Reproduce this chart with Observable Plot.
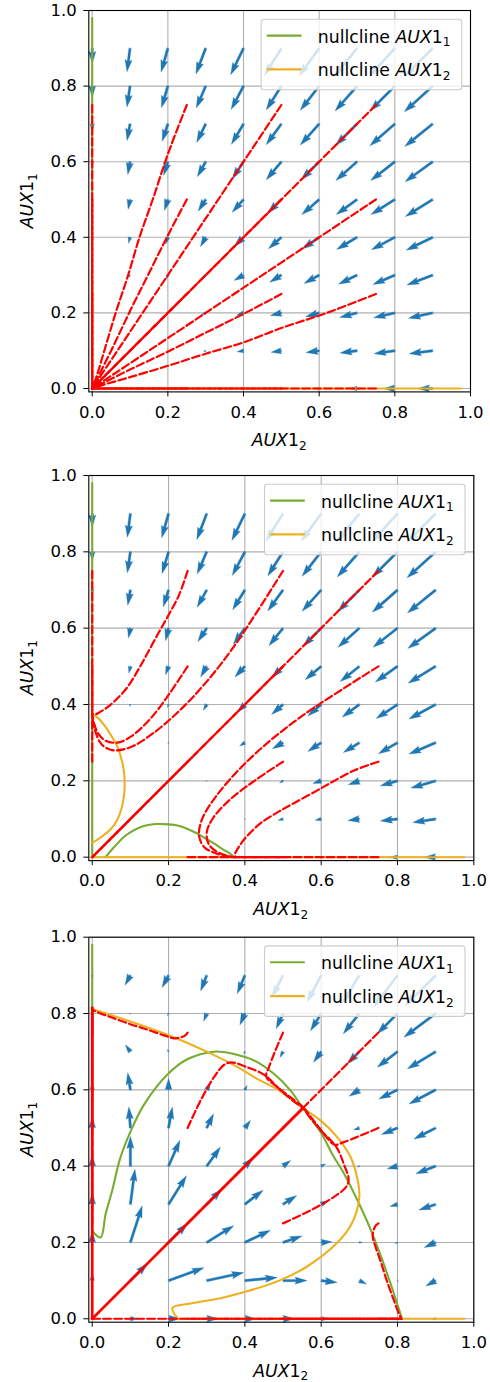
<!DOCTYPE html>
<html><head><meta charset="utf-8">
<script src="https://cdn.jsdelivr.net/npm/d3@7"></script>
<script src="https://cdn.jsdelivr.net/npm/@observablehq/plot@0.6"></script>
<style>body{margin:0;background:#fff}#chart{width:490px}#chart svg{display:block}</style>
</head><body><div id="chart"></div>
<script>
// ---------- data ----------
const gridVals = [0,0.1,0.2,0.3,0.4,0.5,0.6,0.7,0.8,0.9];
const tickVals = [0,0.2,0.4,0.6,0.8,1.0];
const legendLabels = ["1","2"];

// quiver components, rows = AUX1_1 (y) 0..0.9, columns = AUX1_2 (x) 0..0.9
const U1 = [
 [0,0,0,-0.002,-0.004,-0.008,-0.012,-0.02,-0.03,-0.04],
 [0,-0.001,-0.002,-0.006,-0.017,-0.027,-0.035,-0.045,-0.055,-0.062],
 [0,-0.002,-0.004,-0.011,-0.018,-0.029,-0.036,-0.046,-0.056,-0.064],
 [0,-0.003,-0.004,-0.009,-0.025,-0.031,-0.04,-0.049,-0.058,-0.068],
 [0,-0.004,-0.006,-0.014,-0.025,-0.034,-0.045,-0.054,-0.062,-0.07],
 [0,-0.005,-0.009,-0.02,-0.03,-0.036,-0.046,-0.055,-0.063,-0.072],
 [0,-0.006,-0.011,-0.022,-0.03,-0.04,-0.048,-0.056,-0.064,-0.073],
 [0,-0.008,-0.015,-0.024,-0.032,-0.04,-0.05,-0.057,-0.066,-0.074],
 [0,-0.008,-0.017,-0.025,-0.033,-0.04,-0.05,-0.058,-0.066,-0.075],
 [0,-0.008,-0.018,-0.026,-0.034,-0.045,-0.053,-0.06,-0.068,-0.075]];
const V1 = [
 [0,0,0,0,0,0,0,0,0,0],
 [0,-0.001,-0.001,-0.002,-0.003,-0.004,-0.005,-0.006,-0.008,-0.008],
 [0,-0.002,-0.004,-0.004,-0.006,-0.007,-0.01,-0.012,-0.013,-0.014],
 [-0.002,-0.006,-0.011,-0.009,-0.014,-0.019,-0.022,-0.024,-0.025,-0.026],
 [-0.004,-0.016,-0.018,-0.025,-0.025,-0.03,-0.031,-0.032,-0.033,-0.034],
 [-0.008,-0.026,-0.029,-0.031,-0.034,-0.036,-0.04,-0.04,-0.04,-0.045],
 [-0.012,-0.034,-0.036,-0.04,-0.046,-0.048,-0.048,-0.05,-0.05,-0.053],
 [-0.02,-0.044,-0.046,-0.049,-0.054,-0.055,-0.056,-0.057,-0.058,-0.06],
 [-0.03,-0.055,-0.057,-0.058,-0.062,-0.063,-0.064,-0.066,-0.066,-0.068],
 [-0.04,-0.062,-0.063,-0.068,-0.07,-0.072,-0.073,-0.074,-0.075,-0.075]];

const U2 = [
 [0,0,0,0,0,0,-0.004,-0.01,-0.02,-0.03],
 [0,0,0,0,-0.002,-0.013,-0.016,-0.03,-0.045,-0.06],
 [0,0,-0.001,-0.002,-0.003,-0.009,-0.022,-0.029,-0.045,-0.065],
 [0,0,-0.002,-0.004,-0.014,-0.028,-0.035,-0.042,-0.05,-0.07],
 [0,-0.002,-0.003,-0.009,-0.02,-0.03,-0.035,-0.045,-0.056,-0.07],
 [0,-0.004,-0.008,-0.016,-0.026,-0.03,-0.042,-0.05,-0.058,-0.072],
 [0,-0.005,-0.008,-0.023,-0.03,-0.037,-0.048,-0.056,-0.064,-0.073],
 [0,-0.007,-0.014,-0.025,-0.032,-0.04,-0.05,-0.057,-0.066,-0.074],
 [0,-0.008,-0.017,-0.025,-0.033,-0.04,-0.05,-0.058,-0.066,-0.075],
 [0,-0.008,-0.018,-0.026,-0.034,-0.045,-0.053,-0.06,-0.068,-0.075]];
const V2 = [
 [0,0,0,0,0,0,0,0,0,0],
 [0,0,0,0,0,-0.003,-0.003,-0.004,-0.005,-0.009],
 [0,0,-0.001,-0.002,-0.002,-0.006,-0.007,-0.01,-0.013,-0.019],
 [0,0,-0.003,-0.004,-0.009,-0.016,-0.023,-0.026,-0.029,-0.03],
 [0,-0.005,-0.008,-0.015,-0.02,-0.026,-0.03,-0.033,-0.037,-0.038],
 [-0.002,-0.018,-0.022,-0.028,-0.028,-0.03,-0.035,-0.04,-0.041,-0.044],
 [-0.006,-0.026,-0.033,-0.035,-0.042,-0.046,-0.048,-0.05,-0.05,-0.053],
 [-0.014,-0.04,-0.044,-0.045,-0.052,-0.055,-0.056,-0.057,-0.058,-0.06],
 [-0.024,-0.055,-0.057,-0.058,-0.062,-0.063,-0.064,-0.066,-0.066,-0.068],
 [-0.035,-0.062,-0.063,-0.068,-0.07,-0.072,-0.073,-0.074,-0.075,-0.075]];

const U3 = [
 [0,0.02,0.03,0.03,0.03,0.03,0.02,0.01,0,-0.01],
 [0,0.045,0.093,0.097,0.085,0.063,0.042,0.019,0.002,-0.026],
 [0,0.031,0.05,0.071,0.067,0.05,0.028,0.008,-0.006,-0.03],
 [0,0.012,0.047,0.04,0.048,0.036,0.02,0.002,-0.02,-0.044],
 [0,0,0.03,0.036,0.022,0.02,0.012,-0.005,-0.027,-0.052],
 [0,-0.004,0.01,0.018,0.015,0.008,0.003,-0.015,-0.042,-0.057],
 [0,-0.007,0,0.01,0.006,0.001,-0.006,-0.027,-0.049,-0.07],
 [0,-0.013,-0.003,-0.002,-0.003,-0.008,-0.02,-0.032,-0.053,-0.074],
 [0,-0.003,-0.003,-0.008,-0.013,-0.018,-0.028,-0.042,-0.053,-0.083],
 [0,-0.014,-0.017,-0.016,-0.02,-0.029,-0.037,-0.045,-0.062,-0.08]];
const V3 = [
 [0,0,0,0,0,0,0,0,0,0],
 [0.02,0.045,0.034,0.021,0.008,0,-0.005,-0.009,-0.003,-0.014],
 [0.03,0.096,0.05,0.044,0.032,0.017,0.002,0,-0.003,-0.013],
 [0.03,0.092,0.075,0.04,0.037,0.023,0.01,0,-0.006,-0.015],
 [0.03,0.078,0.068,0.05,0.022,0.015,0.006,-0.002,-0.007,-0.02],
 [0.03,0.055,0.055,0.037,0.02,0.008,0.001,-0.005,-0.017,-0.029],
 [0.02,0.045,0.03,0.02,0.012,0.003,-0.006,-0.017,-0.024,-0.037],
 [0.01,0.018,0.006,0,-0.006,-0.015,-0.028,-0.032,-0.041,-0.045],
 [0,-0.002,-0.006,-0.02,-0.03,-0.04,-0.045,-0.053,-0.053,-0.062],
 [-0.01,-0.026,-0.032,-0.041,-0.048,-0.057,-0.07,-0.074,-0.083,-0.08]];

// nullclines [x, y]
const green1 = [[[0,0],[0,0.98]]];
const yellow1 = [[[0,0],[0.975,0]]];
const green2 = [[[0,0],[0,0.98]],
 [[0.035,0],[0.05,0.018],[0.083,0.053],[0.105,0.068],[0.127,0.079],[0.15,0.085],[0.17,0.087],[0.2,0.086],[0.223,0.083],[0.25,0.074],[0.275,0.062],[0.3,0.047],[0.319,0.036],[0.34,0.022],[0.362,0.009],[0.372,0]]];
const yellow2 = [[[0,0],[0.975,0]],
 [[0,0.038],[0.004,0.04],[0.025,0.054],[0.048,0.073],[0.065,0.097],[0.076,0.125],[0.083,0.16],[0.085,0.19],[0.083,0.225],[0.077,0.255],[0.066,0.29],[0.05,0.318],[0.032,0.345],[0.015,0.365],[0.004,0.372],[0,0.375]]];
const green3 = [[[0,0.23],[0,0.98]],
 [[0,0.23],[0.022,0.213],[0.035,0.274],[0.052,0.335],[0.074,0.423],[0.1,0.49],[0.135,0.56],[0.197,0.64],[0.249,0.68],[0.319,0.70],[0.371,0.694],[0.424,0.677],[0.476,0.642],[0.52,0.598],[0.55,0.555],[0.598,0.49],[0.63,0.43],[0.66,0.38],[0.70,0.30],[0.734,0.223],[0.773,0.118],[0.812,0]]];
const yellow3 = [[[0.225,0],[0.975,0]],
 [[0.225,0],[0.21,0.028],[0.258,0.04],[0.336,0.054],[0.406,0.072],[0.49,0.1],[0.56,0.135],[0.64,0.197],[0.68,0.249],[0.70,0.319],[0.694,0.371],[0.677,0.424],[0.642,0.476],[0.598,0.52],[0.555,0.55],[0.49,0.598],[0.43,0.63],[0.38,0.66],[0.30,0.70],[0.223,0.734],[0.118,0.773],[0,0.812]]];

// trajectories [x, y], start point first
const traj1 = [
 [[0.25,0.75],[0.2,0.62],[0.16,0.5],[0.125,0.4],[0.095,0.3],[0.062,0.2],[0.032,0.1],[0.011,0.03],[0,0]],
 [[0.75,0.25],[0.62,0.2],[0.5,0.16],[0.4,0.122],[0.3,0.092],[0.2,0.06],[0.1,0.03],[0.03,0.01],[0,0]],
 [[0.25,0.5],[0.2,0.405],[0.15,0.305],[0.1,0.205],[0.05,0.1],[0,0]],
 [[0.5,0.25],[0.405,0.2],[0.305,0.15],[0.205,0.1],[0.1,0.05],[0,0]],
 [[0.5,0.75],[0.4,0.6],[0.3,0.45],[0.2,0.3],[0.1,0.15],[0,0]],
 [[0.75,0.5],[0.6,0.4],[0.45,0.3],[0.3,0.2],[0.15,0.1],[0,0]],
 [[0.75,0.75],[0,0]],[[0.5,0.5],[0,0]],[[0.25,0.25],[0,0]],
 [[0,0.75],[0,0]],[[0,0.5],[0,0]],[[0,0.25],[0,0]],
 [[0.75,0],[0,0]],[[0.5,0],[0,0]],[[0.25,0],[0,0]]];
const traj2 = [
 [[0.25,0.75],[0.227,0.686],[0.197,0.629],[0.175,0.59],[0.144,0.533],[0.12,0.49],[0.092,0.445],[0.065,0.415],[0.04,0.393],[0.02,0.38],[0.008,0.374],[0,0.375]],
 [[0.75,0.25],[0.686,0.227],[0.629,0.197],[0.59,0.175],[0.533,0.144],[0.49,0.12],[0.445,0.092],[0.415,0.065],[0.393,0.04],[0.38,0.02],[0.374,0.008],[0.375,0]],
 [[0.25,0.5],[0.2,0.425],[0.15,0.36],[0.1,0.315],[0.065,0.3],[0.035,0.305],[0.015,0.325],[0.005,0.35],[0,0.372]],
 [[0.5,0.25],[0.425,0.2],[0.36,0.15],[0.315,0.1],[0.3,0.065],[0.305,0.035],[0.325,0.015],[0.35,0.005],[0.372,0]],
 [[0.5,0.75],[0.43,0.64],[0.37,0.55],[0.3,0.46],[0.23,0.385],[0.16,0.325],[0.1,0.288],[0.055,0.28],[0.025,0.295],[0.008,0.33],[0,0.37]],
 [[0.75,0.5],[0.64,0.43],[0.55,0.37],[0.46,0.3],[0.385,0.23],[0.325,0.16],[0.288,0.1],[0.28,0.055],[0.295,0.025],[0.33,0.008],[0.37,0]],
 [[0.75,0.75],[0,0]],[[0.5,0.5],[0,0]],[[0.25,0.25],[0,0]],
 [[0,0.75],[0,0.375]],[[0,0.5],[0,0.375]],[[0,0.25],[0,0.375]],
 [[0.75,0],[0.375,0]],[[0.5,0],[0.375,0]],[[0.25,0],[0.375,0]]];
const traj3 = [
 [[0.25,0.75],[0.243,0.742],[0.23,0.737],[0.215,0.735],[0.19,0.742],[0.15,0.756],[0.1,0.772],[0.05,0.79],[0.015,0.803],[0,0.81]],
 [[0.75,0.25],[0.742,0.243],[0.737,0.23],[0.735,0.215],[0.742,0.19],[0.756,0.15],[0.772,0.1],[0.79,0.05],[0.803,0.015],[0.81,0]],
 [[0.25,0.5],[0.284,0.572],[0.319,0.633],[0.345,0.665],[0.365,0.672],[0.406,0.659],[0.45,0.64],[0.493,0.6],[0.528,0.57],[0.55,0.555]],
 [[0.5,0.25],[0.572,0.284],[0.633,0.319],[0.665,0.345],[0.672,0.365],[0.659,0.406],[0.64,0.45],[0.6,0.493],[0.57,0.528],[0.555,0.55]],
 [[0.5,0.75],[0.48,0.703],[0.463,0.659],[0.456,0.635],[0.485,0.607],[0.52,0.58],[0.55,0.557]],
 [[0.75,0.5],[0.703,0.48],[0.659,0.463],[0.635,0.456],[0.607,0.485],[0.58,0.52],[0.557,0.55]],
 [[0.75,0.75],[0.553,0.553]],[[0.5,0.5],[0.553,0.553]],[[0.25,0.25],[0.553,0.553]],
 [[0,0.25],[0,0.815]],[[0,0.5],[0,0.815]],[[0,0.75],[0,0.815]],
 [[0,0],[0.81,0]],[[0.25,0],[0.81,0]],[[0.5,0],[0.81,0]],[[0.75,0],[0.81,0]]];
const solid3 = [[[0,0],[0.553,0.553]],[[0,0],[0,0.815]]];

// ---------- drawing ----------
const BLUE = "#1f77b4", RED = "#ff0000", GREEN = "#77ac30", YELLOW = "#edb120";
const FONT = "DejaVu Sans";

function arrowRows(U, V, k) {
  const rows = [];
  gridVals.forEach((yv, i) => gridVals.forEach((xv, j) => {
    const u = U[i][j], v = V[i][j];
    const m = Math.hypot(u, v);
    const L = m * k;
    if (L < 0.6) return;
    const dx = u / m, dy = v / m, px = -dy, py = dx;
    let w = 2.4;
    if (L < 5 * w) w = L / 5;
    const shape = [[0,-w/2],[L-4.5*w,-w/2],[L-5*w,-1.5*w],[L,0],[L-5*w,1.5*w],[L-4.5*w,w/2],[0,w/2]];
    const id = i * 10 + j;
    for (const [a, b] of shape) rows.push({id, x: xv + (a*dx + b*px)/k, y: yv + (a*dy + b*py)/k});
  }));
  return rows;
}
function lineRows(list) {
  const rows = [];
  list.forEach((pts, id) => pts.forEach(([x, y]) => rows.push({id, x, y})));
  return rows;
}
function mathLabel(sel, sub) {
  sel.append("tspan").attr("font-style", "italic").text("AUX");
  sel.append("tspan").text("1");
  sel.append("tspan").attr("font-size", "70%").attr("dy", "0.3em").text(sub);
}

const panels = [
  {U:U1, V:V1, green:green1, yellow:yellow1, dashed:traj1, solid:[], solidW:2.08, height:462, mt:10, mb:70.6, ml:88.3, mr:20},
  {U:U2, V:V2, green:green2, yellow:yellow2, dashed:traj2, solid:[], solidW:2.08, height:462, mt:13, mb:63.9, ml:88.3, mr:16.7},
  {U:U3, V:V3, green:green3, yellow:yellow3, dashed:traj3, solid:solid3, solidW:2.7, height:458, mt:12.7, mb:60.3, ml:88.3, mr:16.7}
];
const dom = [-0.009, 1.0];
const chart = document.getElementById("chart");

panels.forEach(p => {
  const fw = 490 - p.ml - p.mr;
  const k = fw / (dom[1] - dom[0]);
  const svg = Plot.plot({
    width: 490, height: p.height,
    marginTop: p.mt, marginBottom: p.mb, marginLeft: p.ml, marginRight: p.mr,
    style: {fontFamily: FONT, fontSize: "16.5px", color: "black", background: "white", overflow: "visible"},
    x: {domain: dom, ticks: tickVals, tickFormat: d3.format(".1f"), tickSize: 5, tickPadding: 8.9, label: null},
    y: {domain: dom, ticks: tickVals, tickFormat: d3.format(".1f"), tickSize: 5, tickPadding: 7, label: null},
    marks: [
      Plot.gridX(tickVals, {stroke: "#b0b0b0", strokeOpacity: 1, strokeWidth: 1.1}),
      Plot.gridY(tickVals, {stroke: "#b0b0b0", strokeOpacity: 1, strokeWidth: 1.1}),
      Plot.line(arrowRows(p.U, p.V, k), {x: "x", y: "y", z: "id", fill: BLUE, stroke: BLUE, strokeWidth: 0.3, curve: "linear-closed"}),
      Plot.line(lineRows(p.green), {x: "x", y: "y", z: "id", stroke: GREEN, strokeWidth: 2.08, curve: "catmull-rom"}),
      Plot.line(lineRows(p.yellow), {x: "x", y: "y", z: "id", stroke: YELLOW, strokeWidth: 2.08, curve: "catmull-rom"}),
      Plot.line(lineRows(p.dashed), {x: "x", y: "y", z: "id", stroke: RED, strokeWidth: 2.2, strokeDasharray: "7.7,3.3", curve: "catmull-rom"}),
      Plot.line(lineRows(p.solid), {x: "x", y: "y", z: "id", stroke: RED, strokeWidth: p.solidW}),
      Plot.frame({stroke: "black", strokeWidth: 1.1})
    ]
  });
  chart.appendChild(svg);
  const s = d3.select(svg);
  const fTop = p.mt, fBot = p.height - p.mb, fL = p.ml, fR = 490 - p.mr;
  // axis labels
  const xl = s.append("text").attr("x", (fL + fR) / 2).attr("y", fBot + 55).attr("text-anchor", "middle")
    .attr("font-family", FONT).attr("font-size", 17.3).attr("fill", "black");
  mathLabel(xl, "2");
  const yl = s.append("text").attr("transform", `translate(33,${(fTop + fBot) / 2}) rotate(-90)`).attr("text-anchor", "middle")
    .attr("font-family", FONT).attr("font-size", 17.3).attr("fill", "black");
  mathLabel(yl, "1");
  // legend
  const lw = 200.5, lh = 70.5;
  const g = s.append("g").attr("transform", `translate(${fR - 8.3 - lw},${fTop + 9.2})`);
  g.append("rect").attr("width", lw).attr("height", lh).attr("rx", 3).attr("fill", "white").attr("fill-opacity", 0.8)
    .attr("stroke", "#cccccc").attr("stroke-width", 1.1);
  [[GREEN, legendLabels[0]], [YELLOW, legendLabels[1]]].forEach(([c, sub], i) => {
    const yy = 16.4 + i * 33.8;
    g.append("line").attr("x1", 5.6).attr("x2", 40.3).attr("y1", yy).attr("y2", yy).attr("stroke", c).attr("stroke-width", 2.08);
    const t = g.append("text").attr("x", 56.6).attr("y", yy + 7).attr("text-anchor", "start")
      .attr("font-family", FONT).attr("font-size", 17.3).attr("fill", "black");
    t.append("tspan").text("nullcline ");
    mathLabel(t, sub);
  });
});
</script></body></html>
